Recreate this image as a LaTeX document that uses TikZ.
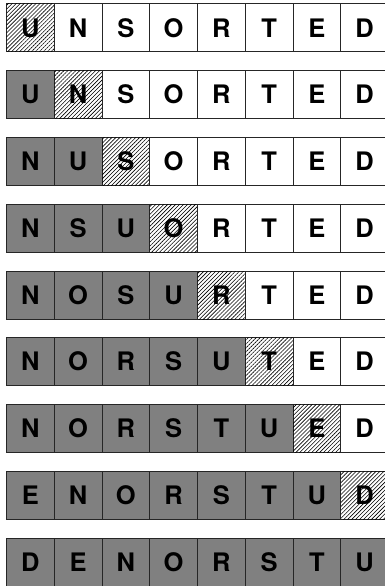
\documentclass[tikz,border=0pt]{standalone}
\usepackage{fontspec}
\setmainfont{TeX Gyre Heros}
\usetikzlibrary{patterns.meta}
\tikzset{
  cell/.style={draw=black!85, line width=1pt, minimum width=47.75pt, minimum height=48pt,
    inner sep=0pt, outer sep=0pt, anchor=north west,
    font=\bfseries\fontsize{25.5}{25.5}\selectfont, text height=18.3pt, text depth=0pt},
  donecell/.style={fill=black!50},
  curcell/.style={fill=white, postaction={pattern={Lines[angle=45,distance=2.8pt,line width=0.6pt]}}},
  todocell/.style={fill=white}
}
\newcommand\mkcell[2]{\node[cell,#1] (c\r-\i) at ({6.5+47.75*\i},{4+66.75*\r}) {#2};}
\begin{document}
\begin{tikzpicture}[x=1pt,y=-1pt]
\useasboundingbox (0,0) rectangle (385,586);
\clip (0,0) rectangle (385,586);
\foreach \row [count=\r from 0] in {
  {U,N,S,O,R,T,E,D},
  {U,N,S,O,R,T,E,D},
  {N,U,S,O,R,T,E,D},
  {N,S,U,O,R,T,E,D},
  {N,O,S,U,R,T,E,D},
  {N,O,R,S,U,T,E,D},
  {N,O,R,S,T,U,E,D},
  {E,N,O,R,S,T,U,D},
  {D,E,N,O,R,S,T,U}} {
  \foreach \ch [count=\i from 0] in \row {
    \ifnum\i<\r
      \mkcell{donecell}{\ch}
    \else
      \ifnum\i=\r \mkcell{curcell}{\ch}\else\mkcell{todocell}{\ch}\fi
    \fi
  }
}
\end{tikzpicture}
\end{document}
